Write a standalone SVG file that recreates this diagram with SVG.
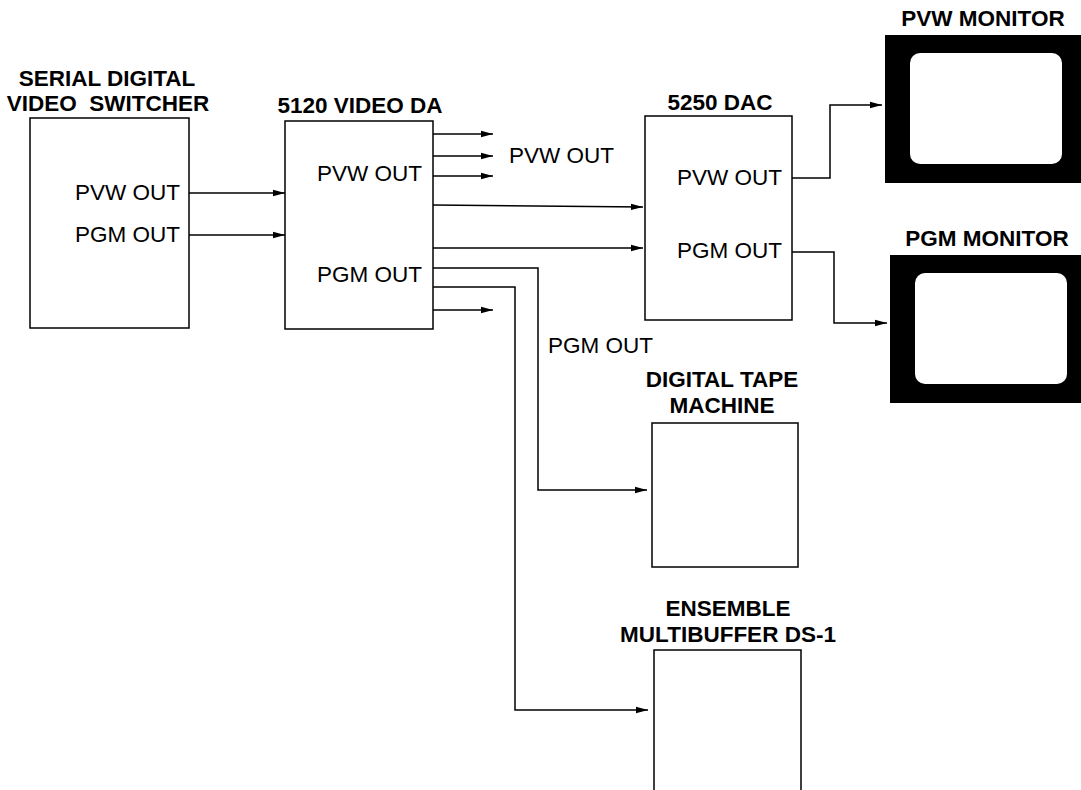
<svg xmlns="http://www.w3.org/2000/svg" width="1081" height="790" viewBox="0 0 1081 790">
<style>
.box{fill:#fff;stroke:#000;stroke-width:1.5}
.t{font-family:"Liberation Sans",Arial,sans-serif;font-size:22.5px;fill:#000}
.b{font-family:"Liberation Sans",Arial,sans-serif;font-size:22.5px;font-weight:bold;fill:#000;text-anchor:middle}
.r{text-anchor:end}
.c{fill:none;stroke:#000;stroke-width:1.5}
</style>
<defs>
<marker id="ah" markerWidth="12" markerHeight="8" refX="12" refY="4" orient="auto" markerUnits="userSpaceOnUse">
<path d="M0,0.8 L12,4 L0,7.2 Z" fill="#000"/>
</marker>
</defs>
<rect width="1081" height="790" fill="#fff"/>
<g id="switcher">
<text class="b" x="107" y="86">SERIAL DIGITAL</text>
<text class="b" x="108" y="111" xml:space="preserve">VIDEO  SWITCHER</text>
<rect class="box" x="30" y="118" width="159" height="210"/>
<text class="t r" x="180" y="200">PVW OUT</text>
<text class="t r" x="180" y="242">PGM OUT</text>
</g>
<g id="da">
<text class="b" x="360" y="113">5120 VIDEO DA</text>
<rect class="box" x="285" y="121" width="148" height="208"/>
<text class="t r" x="422" y="181">PVW OUT</text>
<text class="t r" x="422" y="282">PGM OUT</text>
</g>
<g id="dac">
<text class="b" x="720" y="110">5250 DAC</text>
<rect class="box" x="645" y="116" width="147" height="204"/>
<text class="t r" x="782" y="185">PVW OUT</text>
<text class="t r" x="782" y="258">PGM OUT</text>
</g>
<g id="pvw-monitor">
<text class="b" x="983" y="26">PVW MONITOR</text>
<rect x="885" y="35" width="196" height="148" fill="#000"/>
<rect x="910" y="53" width="152" height="111" rx="10" fill="#fff"/>
</g>
<g id="pgm-monitor">
<text class="b" x="987" y="246">PGM MONITOR</text>
<rect x="890" y="255" width="191" height="148" fill="#000"/>
<rect x="915" y="273" width="152" height="111" rx="10" fill="#fff"/>
</g>
<g id="tape">
<text class="b" x="722" y="387">DIGITAL TAPE</text>
<text class="b" x="722" y="413">MACHINE</text>
<rect class="box" x="652" y="423" width="146" height="144"/>
</g>
<g id="ensemble">
<text class="b" x="728" y="616">ENSEMBLE</text>
<text class="b" x="728" y="642">MULTIBUFFER DS-1</text>
<path class="box" d="M654,795 L654,650 L801,650 L801,795"/>
</g>
<g id="labels">
<text class="t" x="509" y="163">PVW OUT</text>
<text class="t" x="548" y="353">PGM OUT</text>
</g>
<g id="connectors">
<path class="c" d="M189,193 L285,193" marker-end="url(#ah)"/>
<path class="c" d="M189,235 L285,235" marker-end="url(#ah)"/>
<path class="c" d="M433,134 L493,134" marker-end="url(#ah)"/>
<path class="c" d="M433,156 L493,156" marker-end="url(#ah)"/>
<path class="c" d="M433,176 L493,176" marker-end="url(#ah)"/>
<path class="c" d="M433,205 L643,207" marker-end="url(#ah)"/>
<path class="c" d="M433,248 L643,248" marker-end="url(#ah)"/>
<path class="c" d="M433,310 L493,310" marker-end="url(#ah)"/>
<path class="c" d="M433,268 L538,268 L538,490 L647,490" marker-end="url(#ah)"/>
<path class="c" d="M433,287 L515,287 L515,710 L648,710" marker-end="url(#ah)"/>
<path class="c" d="M792,178 L830,178 L830,105 L882,105" marker-end="url(#ah)"/>
<path class="c" d="M792,252 L834,252 L834,323 L887,323" marker-end="url(#ah)"/>
</g>
</svg>
